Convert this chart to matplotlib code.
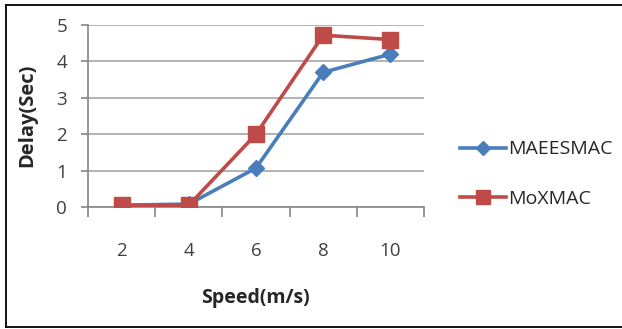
import matplotlib
matplotlib.use("Agg")
import matplotlib.pyplot as plt
from matplotlib.lines import Line2D
import numpy as np

categories = ["2", "4", "6", "8", "10"]
maeesmac = [0.05, 0.08, 1.07, 3.7, 4.2]
moxmac = [0.05, 0.05, 2.0, 4.72, 4.6]

W, H = 622, 329
fig = plt.figure(figsize=(W / 100, H / 100), dpi=100)
plt.rcParams['font.family'] = ['Open Sans', 'DejaVu Sans']

ax = fig.add_axes([88 / W, 1 - 207 / H, (424 - 88) / W, (207 - 25) / H])
x = np.arange(len(categories))
blue = "#4A7EBB"
red = "#BE4B48"
ax.plot(x, maeesmac, color=blue, lw=2.6, marker="D", ms=8, label="MAEESMAC", zorder=3)
ax.plot(x, moxmac, color=red, lw=2.6, marker="s", ms=11, label="MoXMAC", zorder=4)

ax.set_xlim(-0.5, len(categories) - 0.5)
ax.set_ylim(0, 5)
ax.set_yticks(range(0, 6))
ax.yaxis.grid(True, color="#A6A6A6", lw=1.2)
ax.set_axisbelow(True)
for s in ["top", "right"]:
    ax.spines[s].set_visible(False)
for s in ["left", "bottom"]:
    ax.spines[s].set_color("#868686")
    ax.spines[s].set_linewidth(1.2)
ax.set_xticks(np.arange(-0.5, len(categories), 1.0))
ax.set_xticklabels([])
ax.set_xticks(x, minor=True)
ax.set_xticklabels(categories, minor=True)
ax.tick_params(axis="x", which="major", length=7, color="#868686", width=1.2)
ax.tick_params(axis="x", which="minor", length=0, pad=25, labelsize=13.5, labelcolor="#404040")
ax.tick_params(axis="y", length=5, color="#868686", width=1.2, labelsize=13.5, labelcolor="#404040", pad=10)

fig.text(255 / W, 1 - 298 / H, "Speed(m/s)", ha="center", va="center", fontsize=14, fontweight="bold", color="#262626")
fig.text(27 / W, 1 - 115 / H, "Delay(Sec)", ha="center", va="center", rotation=90, fontsize=14.5, fontweight="bold", color="#262626")

# legend
handles = [Line2D([0], [0], color=blue, lw=2.6, marker="D", ms=7),
           Line2D([0], [0], color=red, lw=2.6, marker="s", ms=10)]
leg = fig.legend(handles, ["MAEESMAC", "MoXMAC"], loc="center left",
                 bbox_to_anchor=(442 / W, 1 - 174 / H), frameon=False,
                 fontsize=14, handlelength=2.4, handletextpad=0.1, labelspacing=1.6,
                 labelcolor="#262626")

# outer border
fig.add_artist(Line2D([6 / W, 6 / W], [1 - 5 / H, 1 - 327 / H], transform=fig.transFigure, color="black", lw=1.3))
fig.add_artist(Line2D([6 / W, 1.0], [1 - 5 / H, 1 - 5 / H], transform=fig.transFigure, color="black", lw=1.3))
fig.add_artist(Line2D([6 / W, 1.0], [1 - 327 / H, 1 - 327 / H], transform=fig.transFigure, color="black", lw=1.3))

fig.savefig("out.png", dpi=100)
